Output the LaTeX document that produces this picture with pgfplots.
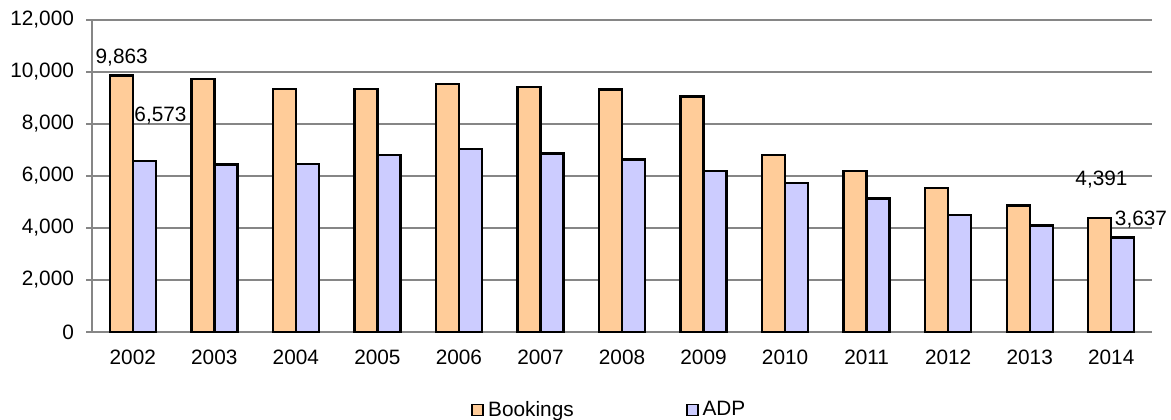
\documentclass[border=0pt]{standalone}
\usepackage{pgfplots}
\usepackage{pgfplotstable}
\pgfplotsset{compat=1.18}
\usepackage{fontspec}
\setmainfont{Liberation Sans}

\definecolor{bookfill}{HTML}{FFCC99}
\definecolor{adpfill}{HTML}{CCCCFF}
\definecolor{gridgray}{HTML}{868686}

\newcommand{\chartfont}{\fontsize{10.4}{12.5}\selectfont}

% yearly totals
\pgfplotstableread{
idx year book adp
0  2002 9863 6573
1  2003 9730 6450
2  2004 9350 6460
3  2005 9350 6810
4  2006 9550 7030
5  2007 9430 6860
6  2008 9330 6640
7  2009 9060 6200
8  2010 6810 5720
9  2011 6200 5140
10 2012 5540 4500
11 2013 4870 4100
12 2014 4391 3637
}\datatable

\begin{document}
\begin{tikzpicture}[x=1pt,y=1pt]
\path[use as bounding box] (-46,-43.5) rectangle (539.5,166);
\begin{axis}[
  at={(0,0)}, anchor=south west,
  scale only axis, width=530pt, height=156pt,
  clip=false,
  xmin=-0.5, xmax=12.5, ymin=0, ymax=12000,
  ybar=0pt, bar width=11.5pt,
  axis x line*=bottom, axis y line*=left,
  axis line style={gridgray, line width=0.6pt, -},
  ymajorgrids, grid style={gridgray, line width=0.6pt},
  ytick={0,2000,...,12000},
  scaled y ticks=false,
  yticklabel style={xshift=-2.5pt, /pgf/number format/.cd, 1000 sep={,}, assume math mode=true},
  xticklabel style={yshift=-2.5pt},
  tick align=outside,
  major tick length=3pt,
  tick style={gridgray, line width=0.6pt},
  xtick={0,...,12},
  xticklabels={2002,2003,2004,2005,2006,2007,2008,2009,2010,2011,2012,2013,2014},
  x tick style={draw=none},
  extra x ticks={-0.5,0.5,...,12.5},
  extra x tick labels={},
  extra x tick style={tick style={gridgray, line width=0.6pt, draw=gridgray}, grid=none},
  ticklabel style={font=\chartfont, text=black},
  legend columns=2,
  legend style={draw=none, fill=none, at={(0.489,-0.25)}, anchor=center,
    font=\chartfont,
    /tikz/every even column/.append style={column sep=54pt}},
  legend image code/.code={\draw[#1, line width=0.9pt] (0pt,-2.75pt) rectangle (5.5pt,2.75pt);},
  every axis plot/.append style={draw=black, line width=1.2pt},
]
\addplot[fill=bookfill] table[x=idx, y=book] {\datatable};
\addplot[fill=adpfill] table[x=idx, y=adp] {\datatable};
\legend{Bookings, ADP}
\node[font=\chartfont] at (axis cs:-0.136,10565) {9,863};
\node[font=\chartfont] at (axis cs:0.34,8310) {6,573};
\node[font=\chartfont] at (axis cs:11.88,5870) {4,391};
\node[font=\chartfont] at (axis cs:12.365,4310) {3,637};
\end{axis}
\end{tikzpicture}
\end{document}
